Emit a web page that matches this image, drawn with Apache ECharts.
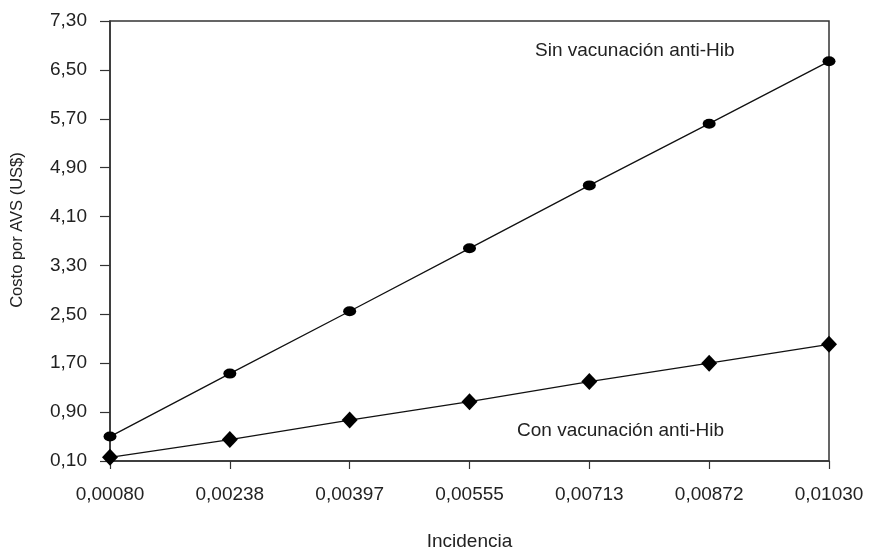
<!DOCTYPE html>
<html>
<head>
<meta charset="utf-8">
<script src="https://cdn.jsdelivr.net/npm/echarts@6/dist/echarts.min.js"></script>
<style>
html,body{margin:0;padding:0;background:#fff;}
#chart{width:871px;height:556px;}
</style>
</head>
<body>
<div id="chart"></div>
<script>
const categories = ['0,00080','0,00238','0,00397','0,00555','0,00713','0,00872','0,01030'];
const sinVacunacion = [0.50, 1.53, 2.55, 3.58, 4.61, 5.62, 6.64];
const conVacunacion = [0.16, 0.45, 0.77, 1.07, 1.40, 1.70, 2.01];
const yTicks = [0.10, 0.90, 1.70, 2.50, 3.30, 4.10, 4.90, 5.70, 6.50, 7.30];
const seriesNames = ['Sin vacunación anti-Hib', 'Con vacunación anti-Hib'];

const FONT = '"Liberation Sans", Arial, Helvetica, sans-serif';
const chart = echarts.init(document.getElementById('chart'));
chart.setOption({
  animation: false,
  backgroundColor: '#fff',
  textStyle: {fontFamily: FONT},
  grid: {left: 110, right: 42, top: 21, bottom: 88, show: true, borderColor: '#333', borderWidth: 1.5, backgroundColor: 'transparent'},
  xAxis: {
    type: 'category',
    data: categories,
    boundaryGap: false,
    name: 'Incidencia',
    nameLocation: 'middle',
    nameGap: 71,
    nameTextStyle: {fontSize: 19, color: '#222', fontFamily: FONT},
    axisLine: {lineStyle: {color: '#333', width: 1.5}},
    axisTick: {show: true, length: 8, inside: false, lineStyle: {color: '#333', width: 1.2}, alignWithLabel: true},
    axisLabel: {fontSize: 19, color: '#222', margin: 24, fontFamily: FONT},
    splitLine: {show: false}
  },
  yAxis: {
    type: 'value',
    min: 0.1,
    max: 7.3,
    name: 'Costo por AVS (US$)',
    nameLocation: 'middle',
    nameGap: 84,
    nameTextStyle: {fontSize: 16.5, color: '#222', fontFamily: FONT, padding: [0, 0, 0, 22]},
    axisLine: {show: true, lineStyle: {color: '#333', width: 1.5}},
    axisTick: {show: true, length: 10, lineStyle: {color: '#333', width: 1.2}, customValues: yTicks},
    axisLabel: {fontSize: 19, color: '#222', margin: 23, fontFamily: FONT, customValues: yTicks,
      formatter: v => v.toFixed(2).replace('.', ',')},
    splitLine: {show: false}
  },
  series: [
    {
      name: seriesNames[0],
      type: 'line',
      data: sinVacunacion,
      symbol: 'circle',
      symbolSize: [13, 10],
      lineStyle: {color: '#111', width: 1.3},
      itemStyle: {color: '#000'},
      z: 3
    },
    {
      name: seriesNames[1],
      type: 'line',
      data: conVacunacion,
      symbol: 'diamond',
      symbolSize: [16, 17],
      lineStyle: {color: '#111', width: 1.3},
      itemStyle: {color: '#000'},
      z: 3
    }
  ],
  graphic: [
    {type: 'text', left: 535, top: 41, style: {text: seriesNames[0], font: '19px ' + FONT, fill: '#222'}},
    {type: 'text', left: 517, top: 421, style: {text: seriesNames[1], font: '19px ' + FONT, fill: '#222'}}
  ]
});
</script>
</body>
</html>
